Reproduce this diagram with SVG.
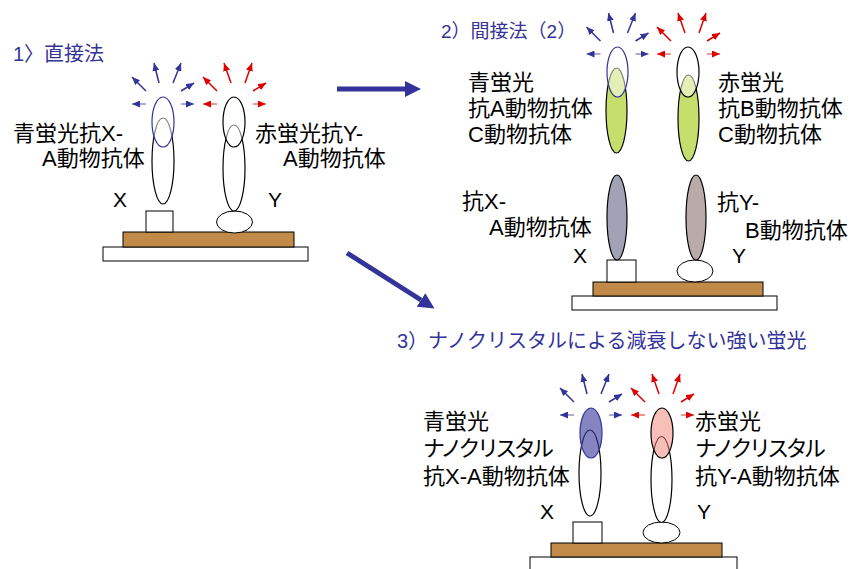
<svg xmlns="http://www.w3.org/2000/svg" xmlns:xlink="http://www.w3.org/1999/xlink" width="852" height="569" viewBox="0 0 852 569">
  <style>
    text { font-family: "Liberation Sans", "Noto Sans CJK JP", sans-serif; }
    .title { font-size: 20px; fill: #333399; }
    .lbl { font-size: 22px; fill: #000; }
    .xy { font-size: 21px; fill: #000; }
    .ab { stroke: #000; stroke-width: 1.2; fill: #fff; }
    .cap { stroke: #000; stroke-width: 1.2; fill: #fff; fill-opacity: 0.5; }
    .capb { stroke: #333399; stroke-width: 1.2; fill: #fff; fill-opacity: 0.5; }
    .green { stroke: #000; stroke-width: 1.2; fill: #C6DE6B; }
    .slide { stroke: #000; stroke-width: 1; fill: #fff; }
    .brown { stroke: #000; stroke-width: 1; fill: #C18A48; }
    .antigen { stroke: #000; stroke-width: 1; fill: #fff; }
    .big { stroke: #333399; stroke-width: 5; fill: none; }
  </style>
  <defs>
    <marker id="hb" viewBox="0 0 8 7" refX="8" refY="3.5" markerWidth="8" markerHeight="7" markerUnits="userSpaceOnUse" orient="auto">
      <path d="M0,0 L8,3.5 L0,7 z" fill="#333399"/>
    </marker>
    <marker id="hr" viewBox="0 0 8 7" refX="8" refY="3.5" markerWidth="8" markerHeight="7" markerUnits="userSpaceOnUse" orient="auto">
      <path d="M0,0 L8,3.5 L0,7 z" fill="#DD0000"/>
    </marker>
    <marker id="hbig" viewBox="0 0 16 16" refX="0" refY="8" markerWidth="16" markerHeight="16" markerUnits="userSpaceOnUse" orient="auto">
      <path d="M0,0 L16,8 L0,16 z" fill="#333399"/>
    </marker>
    <!-- emitted light rays around a fluorescent label, origin = label centre -->
    <g id="rays-blue" stroke="#333399" stroke-width="1.5" fill="none">
      <line x1="-17" y1="-18" x2="-31" y2="-18" stroke-opacity="0.55" marker-end="url(#hb)"/>
      <line x1="-17" y1="-31" x2="-31" y2="-45" marker-end="url(#hb)"/>
      <line x1="-4" y1="-39" x2="-9" y2="-59" marker-end="url(#hb)"/>
      <line x1="10" y1="-39" x2="18" y2="-59" marker-end="url(#hb)"/>
      <line x1="18" y1="-31" x2="31" y2="-39" marker-end="url(#hb)"/>
      <line x1="18" y1="-18" x2="31" y2="-18" stroke-opacity="0.55" marker-end="url(#hb)"/>
    </g>
    <g id="rays-red" stroke="#DD0000" stroke-width="1.5" fill="none">
      <line x1="-17" y1="-18" x2="-31" y2="-18" stroke-opacity="0.55" marker-end="url(#hr)"/>
      <line x1="-17" y1="-31" x2="-31" y2="-45" marker-end="url(#hr)"/>
      <line x1="-3" y1="-39" x2="-10" y2="-59" marker-end="url(#hr)"/>
      <line x1="11" y1="-39" x2="18" y2="-59" marker-end="url(#hr)"/>
      <line x1="19" y1="-31" x2="32" y2="-39" marker-end="url(#hr)"/>
      <line x1="19" y1="-18" x2="32" y2="-18" stroke-opacity="0.55" marker-end="url(#hr)"/>
    </g>
  </defs>

  <rect width="852" height="569" fill="#fff"/>

  <!-- 1) direct method -->
  <g id="title-direct">
    <text class="title" x="13" y="61">1〉直接法</text>
  </g>
  <g id="direct-base">
    <rect class="slide" x="103" y="247" width="205" height="14"/>
    <rect class="brown" x="123" y="232" width="171" height="15"/>
  </g>
  <g id="direct-x">
    <rect class="antigen" x="146" y="211" width="27" height="21"/>
    <ellipse class="ab" cx="163" cy="161" rx="11" ry="43"/>
    <ellipse class="capb" cx="163" cy="122" rx="11" ry="25"/>
    <use xlink:href="#rays-blue" x="163" y="122"/>
    <text class="xy" x="113" y="207">X</text>
    <text class="lbl" x="13" y="141">青蛍光抗X-</text>
    <text class="lbl" x="42" y="166">A動物抗体</text>
  </g>
  <g id="direct-y">
    <ellipse class="antigen" cx="234.5" cy="222" rx="18" ry="11"/>
    <ellipse class="ab" cx="234" cy="168" rx="11" ry="43"/>
    <ellipse class="cap" cx="234" cy="122" rx="11" ry="25"/>
    <use xlink:href="#rays-red" x="234" y="122"/>
    <text class="xy" x="268" y="207">Y</text>
    <text class="lbl" x="255" y="141">赤蛍光抗Y-</text>
    <text class="lbl" x="283" y="166">A動物抗体</text>
  </g>

  <!-- 2) indirect method -->
  <g id="title-indirect">
    <text class="title" x="441" y="38" style="font-size:19px">2）間接法（2）</text>
  </g>
  <g id="indirect-base">
    <rect class="slide" x="572" y="296" width="205" height="14"/>
    <rect class="brown" x="593" y="282" width="170" height="14"/>
  </g>
  <g id="indirect-x">
    <rect class="antigen" x="607" y="260" width="29" height="22"/>
    <ellipse cx="617" cy="217.5" rx="10" ry="42.5" stroke="#000" stroke-width="1.2" fill="#A2A2B6"/>
    <text class="xy" x="573" y="263">X</text>
    <text class="lbl" x="462" y="209">抗X-</text>
    <text class="lbl" x="489" y="235">A動物抗体</text>
  </g>
  <g id="indirect-y">
    <ellipse class="antigen" cx="695" cy="271" rx="18" ry="11"/>
    <ellipse cx="696" cy="217.5" rx="10" ry="42.5" stroke="#000" stroke-width="1.2" fill="#BAABAB"/>
    <text class="xy" x="732" y="263">Y</text>
    <text class="lbl" x="717" y="210">抗Y-</text>
    <text class="lbl" x="745" y="238">B動物抗体</text>
  </g>
  <g id="secondary-blue">
    <ellipse class="green" cx="616.5" cy="110.5" rx="10.5" ry="42.5"/>
    <ellipse class="capb" cx="617.5" cy="72" rx="10.5" ry="25"/>
    <use xlink:href="#rays-blue" x="617.5" y="72"/>
    <text class="lbl" x="468" y="90">青蛍光</text>
    <text class="lbl" x="468" y="116">抗A動物抗体</text>
    <text class="lbl" x="468" y="142">C動物抗体</text>
  </g>
  <g id="secondary-red">
    <ellipse class="green" cx="688.5" cy="118" rx="10.5" ry="43"/>
    <ellipse class="cap" cx="688" cy="72" rx="11" ry="25"/>
    <use xlink:href="#rays-red" x="688" y="72"/>
    <text class="lbl" x="718" y="90">赤蛍光</text>
    <text class="lbl" x="718" y="116">抗B動物抗体</text>
    <text class="lbl" x="718" y="142">C動物抗体</text>
  </g>

  <!-- 3) nanocrystal labels -->
  <g id="title-nano">
    <text class="title" x="397" y="348">3）ナノクリスタルによる減衰しない強い蛍光</text>
  </g>
  <g id="nano-base">
    <rect class="slide" x="530" y="557" width="207" height="20"/>
    <rect class="brown" x="551" y="543" width="171" height="14"/>
  </g>
  <g id="nano-x">
    <rect class="antigen" x="573" y="522" width="29" height="21"/>
    <ellipse class="ab" cx="590" cy="473" rx="11" ry="43"/>
    <ellipse cx="591" cy="433" rx="11" ry="25" stroke="#333399" stroke-width="1.2" fill="#333399" fill-opacity="0.6"/>
    <use xlink:href="#rays-blue" x="591" y="433"/>
    <text class="xy" x="540" y="519">X</text>
    <text class="lbl" x="423" y="429">青蛍光</text>
    <text class="lbl" x="423" y="456" textLength="131" lengthAdjust="spacing">ナノクリスタル</text>
    <text class="lbl" x="423" y="484">抗X-A動物抗体</text>
  </g>
  <g id="nano-y">
    <ellipse class="antigen" cx="661.5" cy="532.5" rx="18.5" ry="10.5"/>
    <ellipse class="ab" cx="661.5" cy="479.5" rx="10.5" ry="43"/>
    <ellipse cx="662" cy="433" rx="11" ry="25" stroke="#000" stroke-width="1.2" fill="#F08070" fill-opacity="0.5"/>
    <use xlink:href="#rays-red" x="662" y="433"/>
    <text class="xy" x="697" y="519">Y</text>
    <text class="lbl" x="695" y="429">赤蛍光</text>
    <text class="lbl" x="695" y="456" textLength="131" lengthAdjust="spacing">ナノクリスタル</text>
    <text class="lbl" x="695" y="484">抗Y-A動物抗体</text>
  </g>

  <!-- connectors between the three methods -->
  <g id="connectors">
    <line class="big" x1="337" y1="89" x2="405" y2="89" marker-end="url(#hbig)"/>
    <line class="big" x1="347" y1="253" x2="421" y2="300" marker-end="url(#hbig)"/>
  </g>
</svg>
